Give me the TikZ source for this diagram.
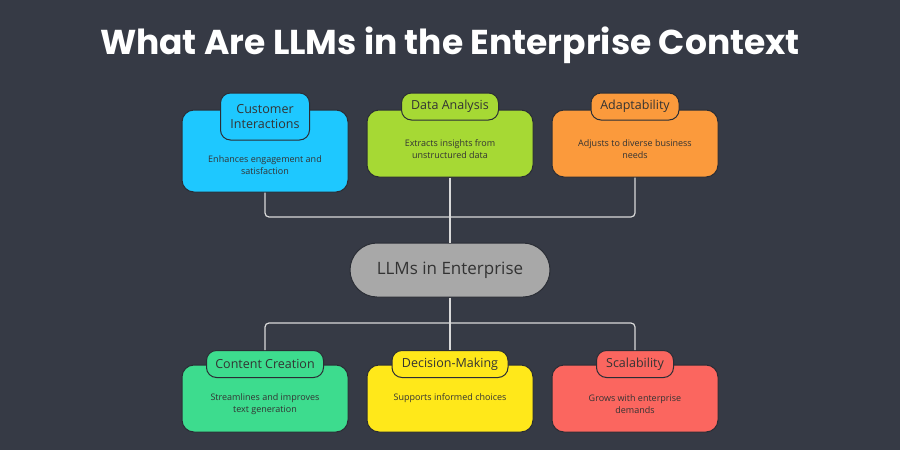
\documentclass[tikz,border=0pt]{standalone}
\usepackage{fontspec}
\setmainfont{Open Sans}
\newfontfamily\titlefont{Poppins}
\usetikzlibrary{positioning}
\definecolor{bgdark}{HTML}{363A45}
\definecolor{cblue}{HTML}{1EC8FF}
\definecolor{cgreen}{HTML}{A6D934}
\definecolor{corange}{HTML}{FB9A3C}
\definecolor{cgray}{HTML}{A8A8A8}
\definecolor{cmint}{HTML}{3DDC8E}
\definecolor{cyellow}{HTML}{FFE81A}
\definecolor{cred}{HTML}{FB665F}
\definecolor{edge}{HTML}{2A2D35}
\tikzset{
  x=1pt, y=-1pt,
  card/.style={
    draw=edge, line width=1pt,
    rounded corners=12pt,
    minimum width=166pt,
    inner sep=0pt
  },
  tab/.style={
    draw=edge, line width=1pt,
    rounded corners=10pt,
    minimum height=27pt,
    inner sep=3pt,
    align=center,
    font=\fontsize{12.5}{15}\selectfont,
    text=black!80
  },
  desc/.style={
    align=center,
    font=\fontsize{9}{12}\selectfont,
    text=black!80
  },
  link/.style={
    draw=white!85!black, line width=1.2pt, rounded corners=4pt
  }
}
\begin{document}
\begin{tikzpicture}
\useasboundingbox[fill=bgdark] (0,0) rectangle (900,450);
\node[text=white, font=\titlefont\bfseries\fontsize{34.5}{38}\selectfont] (title) at (450,45) {What Are LLMs in the Enterprise Context};
% top cards
\node[card, fill=cblue, minimum height=82pt] (ci) at (265,151) {};
\node[card, fill=cgreen, minimum height=67pt] (da) at (450,143.5) {};
\node[card, fill=corange, minimum height=67pt] (ad) at (635,143.5) {};
\node[tab, fill=cblue, minimum width=89pt, minimum height=47pt] (cit) at (265,116.5) {Customer\\Interactions};
\node[tab, fill=cgreen, minimum width=97pt] (dat) at (450,106.5) {Data Analysis};
\node[tab, fill=corange, minimum width=88pt] (adt) at (635,106.5) {Adaptability};
\node[desc] (cid) at (265,165) {Enhances engagement and\\satisfaction};
\node[desc] (dad) at (450,149) {Extracts insights from\\unstructured data};
\node[desc] (add) at (635,149) {Adjusts to diverse business\\needs};
% center
\node[draw=edge, line width=1pt, fill=cgray, rounded corners=27pt, minimum width=200pt, minimum height=54pt, font=\fontsize{17}{20}\selectfont, text=black!80] (llm) at (450,270) {LLMs in Enterprise};
% bottom cards
\node[card, fill=cmint, minimum height=67pt] (cc) at (265,398.5) {};
\node[card, fill=cyellow, minimum height=67pt] (dm) at (450,398.5) {};
\node[card, fill=cred, minimum height=67pt] (sc) at (635,398.5) {};
\node[tab, fill=cmint, minimum width=117pt] (cct) at (265,364) {Content Creation};
\node[tab, fill=cyellow, minimum width=116pt] (dmt) at (450,364) {Decision-Making};
\node[tab, fill=cred, minimum width=77pt] (sct) at (635,364) {Scalability};
\node[desc] (ccd) at (265,404) {Streamlines and improves\\text generation};
\node[desc] (dmd) at (450,398) {Supports informed choices};
\node[desc] (scd) at (635,404) {Grows with enterprise\\demands};
% connectors
\coordinate (topbus) at (450,217);
\coordinate (botbus) at (450,323);
\draw[link] (ci.south) |- (topbus) -| (ad.south);
\draw[link] (da.south) -- (llm.north);
\draw[link] (cct.north) |- (botbus) -| (sct.north);
\draw[link] (llm.south) -- (dmt.north);
\end{tikzpicture}
\end{document}
